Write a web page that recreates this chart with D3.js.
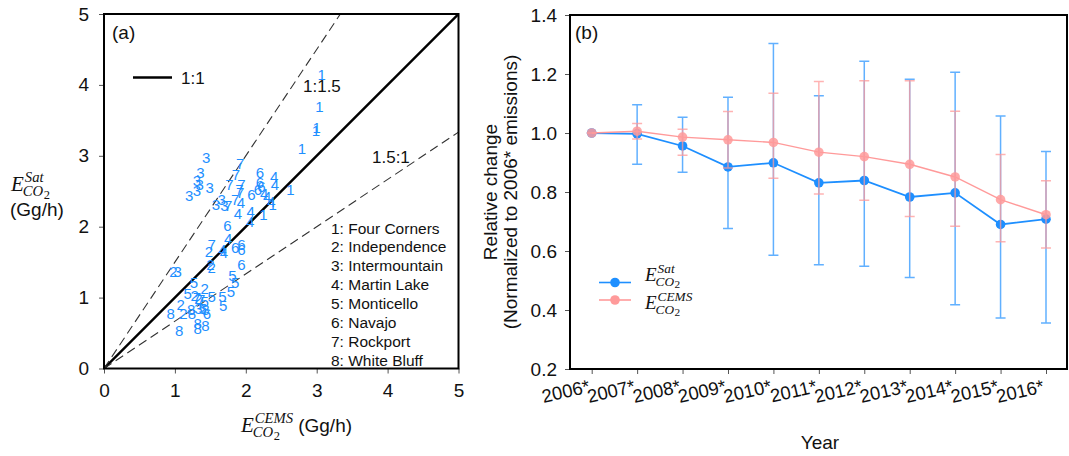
<!DOCTYPE html>
<html>
<head>
<meta charset="utf-8">
<script src="https://cdn.jsdelivr.net/npm/d3@7"></script>
<style>
  body { margin: 0; background: #fff; }
  text { font-family: Arial, "Liberation Sans", sans-serif; fill: #111; }
</style>
</head>
<body>
<svg id="fig" width="1069" height="456"></svg>
<script>
// ---- panel (a): satellite vs CEMS, one array per plant, [cems, sat] in Gg/h
var plantNames = ["Four Corners", "Independence", "Intermountain", "Martin Lake",
                  "Monticello", "Navajo", "Rockport", "White Bluff"];
var fourCorners = [[3.07, 4.14], [3.04, 3.69], [2.99, 3.35], [3.00, 3.40], [2.79, 3.10],
                   [2.63, 2.53], [2.38, 2.32], [2.25, 2.17]];
var independence = [[0.98, 1.37], [1.48, 1.65], [1.50, 1.46], [1.52, 1.43], [1.42, 1.13],
                    [1.28, 1.03], [1.33, 0.99], [1.08, 0.90], [1.12, 0.78]];
var intermountain = [[1.44, 2.98], [1.36, 2.76], [1.31, 2.65], [1.35, 2.60], [1.49, 2.55],
                     [1.31, 2.51], [1.20, 2.44], [1.58, 2.32], [1.66, 2.38], [1.70, 2.30],
                     [1.04, 1.37], [1.33, 0.84]];
var martinLake = [[2.40, 2.71], [2.41, 2.60], [2.26, 2.47], [2.30, 2.43], [2.36, 2.36],
                  [1.93, 2.34], [1.89, 2.19], [2.07, 2.22], [2.06, 2.07], [1.75, 1.84],
                  [1.67, 1.68], [1.69, 1.64]];
var monticello = [[1.27, 1.21], [1.18, 1.06], [1.52, 1.01], [1.67, 1.01], [1.68, 0.89],
                  [1.79, 1.09], [1.85, 1.21], [1.81, 1.31], [1.39, 0.84], [1.42, 0.95]];
var navajo = [[2.20, 2.76], [2.20, 2.62], [2.22, 2.57], [2.17, 2.53], [2.08, 2.46],
              [1.74, 2.02], [1.85, 1.71], [1.94, 1.75], [1.94, 1.68], [1.94, 1.46],
              [1.45, 0.78]];
var rockport = [[1.92, 2.89], [1.86, 2.73], [1.77, 2.60], [1.94, 2.59], [1.91, 2.53],
                [1.92, 2.48], [1.85, 2.38], [1.75, 2.30], [1.52, 1.75], [1.37, 0.97],
                [1.31, 1.00]];
var whiteBluff = [[0.94, 0.78], [1.06, 0.53], [1.23, 0.83], [1.24, 0.78], [1.43, 0.83],
                  [1.32, 0.64], [1.32, 0.57], [1.43, 0.61]];
var plants = [fourCorners, independence, intermountain, martinLake,
              monticello, navajo, rockport, whiteBluff];
var ticksA = [0, 1, 2, 3, 4, 5];
var ratioLines = [{slope: 1, label: "1:1"}, {slope: 1.5, label: "1:1.5"}, {slope: 1 / 1.5, label: "1.5:1"}];

// ---- panel (b): relative change, normalised to 2006*
var years = ["2006*", "2007*", "2008*", "2009*", "2010*", "2011*",
             "2012*", "2013*", "2014*", "2015*", "2016*"];
var satMean = [1.000, 0.997, 0.956, 0.885, 0.899, 0.831, 0.839, 0.783, 0.797, 0.690, 0.708];
var satLow  = [1.000, 0.894, 0.867, 0.676, 0.586, 0.553, 0.548, 0.510, 0.418, 0.373, 0.356];
var satHigh = [1.000, 1.096, 1.053, 1.121, 1.303, 1.126, 1.243, 1.182, 1.206, 1.058, 0.937];
var cemsMean = [1.000, 1.006, 0.986, 0.977, 0.968, 0.935, 0.920, 0.894, 0.851, 0.774, 0.723];
var cemsLow  = [1.000, 0.980, 0.925, 0.881, 0.847, 0.793, 0.772, 0.717, 0.684, 0.631, 0.610];
var cemsHigh = [1.000, 1.032, 1.013, 1.073, 1.135, 1.175, 1.177, 1.177, 1.074, 0.927, 0.838];
var ticksB = [0.2, 0.4, 0.6, 0.8, 1.0, 1.2, 1.4];

var blue = "#1e8fff";
var pink = "#ff9a9a";

var svg = d3.select("#fig");

// E_{CO2}^{sup} written with separate text pieces
function mathE(g, x, y, sup, size) {
    var serif = "'Liberation Serif', 'DejaVu Serif', serif";
    var e = g.append("text").attr("x", x).attr("y", y)
        .style("font-family", serif).style("font-style", "italic")
        .style("font-size", size + "px").text("E");
    var w = e.node().getComputedTextLength();
    var s = size * 0.7;
    var su = g.append("text").attr("x", x + w + 1).attr("y", y - size * 0.42)
        .style("font-family", serif).style("font-style", "italic")
        .style("font-size", s + "px").text(sup);
    var w3 = su.node().getComputedTextLength();
    var co = g.append("text").attr("x", x + w - 1).attr("y", y + size * 0.26)
        .style("font-family", serif).style("font-style", "italic")
        .style("font-size", s + "px").text("CO");
    var w2 = co.node().getComputedTextLength();
    g.append("text").attr("x", x + w - 1 + w2 + 0.5).attr("y", y + size * 0.36)
        .style("font-family", serif)
        .style("font-size", (s * 0.85) + "px").text("2");
    return x + w + Math.max(w3 + 1, w2 + 6);
}

// ================= panel (a) =================
var xa = d3.scaleLinear().domain([0, 5]).range([104, 458.5]);
var ya = d3.scaleLinear().domain([0, 5]).range([368.5, 14]);
var ga = svg.append("g");

var axA = ga.append("g").attr("transform", "translate(0,368.5)")
    .call(d3.axisBottom(xa).tickValues(ticksA).tickSize(5).tickPadding(10).tickFormat(d3.format("d")));
var ayA = ga.append("g").attr("transform", "translate(104,0)")
    .call(d3.axisLeft(ya).tickValues(ticksA).tickSize(5).tickPadding(10).tickFormat(d3.format("d")));
[axA, ayA].forEach(function (a) {
    a.select(".domain").remove();
    a.selectAll(".tick line").attr("stroke", "#555");
    a.selectAll(".tick text").style("font-size", "19px").style("font-family", "Arial, 'Liberation Sans', sans-serif").attr("fill", "#111");
});

ga.append("clipPath").attr("id", "clipA").append("rect")
    .attr("x", xa(0)).attr("y", ya(5)).attr("width", xa(5) - xa(0)).attr("height", ya(0) - ya(5));

var linesA = ga.append("g").attr("clip-path", "url(#clipA)");
ratioLines.forEach(function (r) {
    linesA.append("line")
        .attr("x1", xa(0)).attr("y1", ya(0))
        .attr("x2", xa(5)).attr("y2", ya(5 * r.slope))
        .attr("stroke", r.slope === 1 ? "#000" : "#333")
        .attr("stroke-width", r.slope === 1 ? 2.4 : 1.1)
        .attr("stroke-dasharray", r.slope === 1 ? null : "9,5");
});

// scatter: plant number drawn at each point
var pts = ga.append("g");
plants.forEach(function (arr, i) {
    pts.selectAll(null).data(arr).enter().append("text")
        .attr("x", function (d) { return xa(d[0]); })
        .attr("y", function (d) { return ya(d[1]); })
        .attr("text-anchor", "middle").attr("dominant-baseline", "central")
        .style("font-size", "15px").style("fill", blue)
        .text(i + 1);
});

ga.append("rect").attr("x", xa(0)).attr("y", ya(5))
    .attr("width", xa(5) - xa(0)).attr("height", ya(0) - ya(5))
    .attr("fill", "none").attr("stroke", "#000").attr("stroke-width", 2);

ga.append("text").attr("x", 112).attr("y", 39).style("font-size", "19px").text("(a)");

// 1:1 legend
ga.append("line").attr("x1", 133).attr("x2", 172).attr("y1", 77.5).attr("y2", 77.5)
    .attr("stroke", "#000").attr("stroke-width", 2.4);
ga.append("text").attr("x", 181).attr("y", 84).style("font-size", "17px").text(ratioLines[0].label);
ga.append("text").attr("x", 303).attr("y", 92).style("font-size", "17px").text(ratioLines[1].label);
ga.append("text").attr("x", 372).attr("y", 163).style("font-size", "17px").text(ratioLines[2].label);

// plant legend
plantNames.forEach(function (n, i) {
    ga.append("text").attr("x", 331).attr("y", 233.5 + i * 18.9)
        .style("font-size", "15.5px").text((i + 1) + ": " + n);
});

// axis titles
var ex = mathE(ga, 241, 432, "CEMS", 21);
ga.append("text").attr("x", ex + 5).attr("y", 432).style("font-size", "19px").text("(Gg/h)");
mathE(ga, 11, 191, "Sat", 21);
ga.append("text").attr("x", 10).attr("y", 216).style("font-size", "19px").text("(Gg/h)");

// ================= panel (b) =================
var xb = d3.scalePoint().domain(years).range([591.7, 1046]);
var yb = d3.scaleLinear().domain([0.2, 1.4]).range([369, 15]);
var gb = svg.append("g");

var axB = gb.append("g").attr("transform", "translate(0,369)")
    .call(d3.axisBottom(xb).tickSize(5).tickFormat(""));
var ayB = gb.append("g").attr("transform", "translate(570,0)")
    .call(d3.axisLeft(yb).tickValues(ticksB).tickSize(5).tickPadding(8).tickFormat(d3.format(".1f")));
[axB, ayB].forEach(function (a) {
    a.select(".domain").remove();
    a.selectAll(".tick line").attr("stroke", "#555");
    a.selectAll(".tick text").style("font-size", "19px").style("font-family", "Arial, 'Liberation Sans', sans-serif").attr("fill", "#111");
});

// slanted year labels
gb.selectAll(".yl").data(years).enter().append("text")
    .attr("transform", function (d) { return "translate(" + (xb(d) - 1) + ",392) rotate(-13)"; })
    .attr("text-anchor", "end").style("font-size", "18.5px").text(function (d) { return d; });

gb.append("rect").attr("x", 570).attr("y", yb(1.4))
    .attr("width", 1067 - 570).attr("height", yb(0.2) - yb(1.4))
    .attr("fill", "none").attr("stroke", "#000").attr("stroke-width", 2);

gb.append("text").attr("x", 575).attr("y", 39).style("font-size", "19px").text("(b)");

function series(vals, lo, hi, color, lineW, barOpacity, dotOpacity) {
    var g = gb.append("g");
    var idx = d3.range(years.length);
    g.selectAll(null).data(idx).enter().append("path")
        .attr("d", function (i) {
            var x = xb(years[i]), y0 = yb(lo[i]), y1 = yb(hi[i]);
            return "M" + x + "," + y0 + "V" + y1 + "M" + (x - 5) + "," + y0 + "H" + (x + 5) +
                   "M" + (x - 5) + "," + y1 + "H" + (x + 5);
        })
        .attr("fill", "none").attr("stroke", color).attr("stroke-width", 1.5)
        .attr("stroke-opacity", barOpacity);
    g.append("path").datum(idx)
        .attr("d", d3.line().x(function (i) { return xb(years[i]); }).y(function (i) { return yb(vals[i]); }))
        .attr("fill", "none").attr("stroke", color).attr("stroke-width", lineW);
    g.selectAll(null).data(idx).enter().append("circle")
        .attr("cx", function (i) { return xb(years[i]); })
        .attr("cy", function (i) { return yb(vals[i]); })
        .attr("r", 4.8).attr("fill", color).attr("fill-opacity", dotOpacity);
}
series(satMean, satLow, satHigh, blue, 1.8, 0.7, 1);
series(cemsMean, cemsLow, cemsHigh, pink, 1.4, 0.75, 0.85);

// legend (b)
[[blue, 282.5, "Sat", 281], [pink, 300, "CEMS", 309]].forEach(function (l) {
    gb.append("line").attr("x1", 599).attr("x2", 631).attr("y1", l[1]).attr("y2", l[1])
        .attr("stroke", l[0]).attr("stroke-width", 1.6);
    gb.append("circle").attr("cx", 615).attr("cy", l[1]).attr("r", 4.8).attr("fill", l[0]);
    mathE(gb, 645, l[3], l[2], 19);
});

// axis titles
gb.append("text").attr("transform", "translate(497,192) rotate(-90)")
    .attr("text-anchor", "middle").style("font-size", "19px").text("Relative change");
gb.append("text").attr("transform", "translate(517,192) rotate(-90)")
    .attr("text-anchor", "middle").style("font-size", "19px").text("(Normalized to 2006* emissions)");
gb.append("text").attr("x", 820).attr("y", 449).attr("text-anchor", "middle")
    .style("font-size", "19px").text("Year");
</script>
</body>
</html>
